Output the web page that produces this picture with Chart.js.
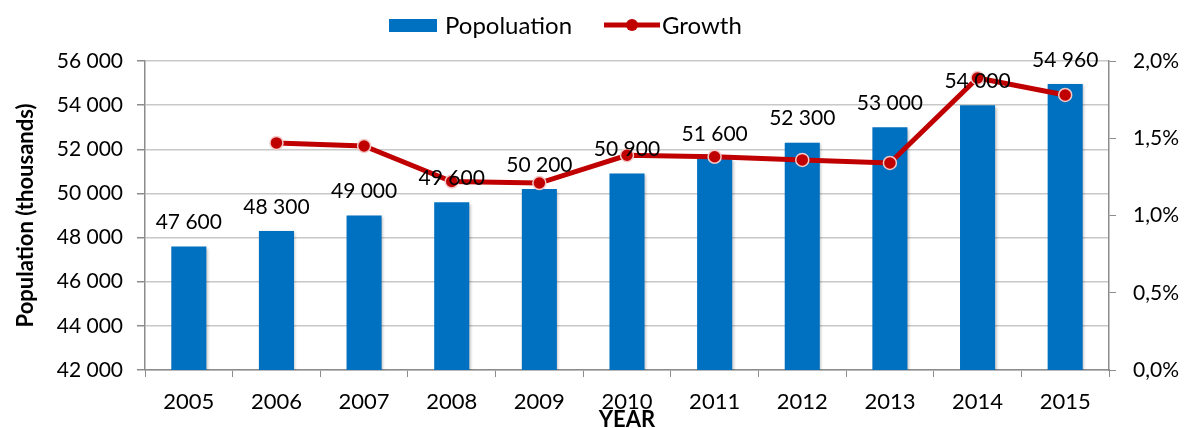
<!DOCTYPE html>
<html>
<head>
<meta charset="utf-8">
<script src="https://cdn.jsdelivr.net/npm/chart.js@4"></script>
<style>
  html, body { margin: 0; padding: 0; background: #fff; }
  #wrap { width: 1199px; height: 428px; position: relative; }
</style>
</head>
<body>
<div id="wrap"><canvas id="chart"></canvas></div>
<script>
// Population by year (thousands) and yearly growth (%)
const years = ['2005','2006','2007','2008','2009','2010','2011','2012','2013','2014','2015'];
const population = [47600, 48300, 49000, 49600, 50200, 50900, 51600, 52300, 53000, 54000, 54960];
const growth = [null, 1.47, 1.45, 1.22, 1.21, 1.39, 1.38, 1.36, 1.34, 1.89, 1.78];
const popTicks = [42000, 44000, 46000, 48000, 50000, 52000, 54000, 56000];
const growthTicks = [0, 0.5, 1.0, 1.5, 2.0];

const FONT = 'Lato, "Open Sans", sans-serif';
const BLUE = '#0070C0';
const RED = '#C00000';
const AXIS = '#8c8c8c';
const GRID = '#c8c8c8';

const fmtThousands = v => String(Math.round(v)).replace(/\B(?=(\d{3})+(?!\d))/g, ' ');
const fmtPct = v => v.toFixed(1).replace('.', ',') + '%';

// soft drop shadow under the bars
const barShadow = {
  id: 'barShadow',
  beforeDatasetDraw(chart, args) {
    if (args.index !== 0) return;
    const ctx = chart.ctx;
    ctx.save();
    ctx.shadowColor = 'rgba(0,0,0,0.28)';
    ctx.shadowBlur = 3;
    ctx.shadowOffsetX = 1.5;
    ctx.shadowOffsetY = 1.5;
  },
  afterDatasetDraw(chart, args) {
    if (args.index !== 0) return;
    chart.ctx.restore();
  }
};

// value labels above each bar
const barLabels = {
  id: 'barLabels',
  afterDatasetsDraw(chart) {
    const ctx = chart.ctx;
    const meta = chart.getDatasetMeta(0);
    ctx.save();
    ctx.font = '21px ' + FONT;
    ctx.fillStyle = '#000';
    ctx.textAlign = 'center';
    ctx.textBaseline = 'middle';
    meta.data.forEach((bar, i) => {
      ctx.fillText(fmtThousands(population[i]), bar.x, bar.y - 24);
    });
    ctx.restore();
  }
};

// legend drawn across the top
const topLegend = {
  id: 'topLegend',
  afterDraw(chart) {
    const ctx = chart.ctx;
    const y = 25;
    ctx.save();
    ctx.font = '24px ' + FONT;
    ctx.textBaseline = 'middle';
    ctx.fillStyle = BLUE;
    ctx.fillRect(389, y - 6, 48, 13);
    ctx.fillStyle = '#000';
    ctx.fillText(chart.data.datasets[0].label, 445, y + 1);
    ctx.strokeStyle = RED;
    ctx.lineWidth = 5;
    ctx.beginPath();
    ctx.moveTo(604, y);
    ctx.lineTo(660, y);
    ctx.stroke();
    ctx.beginPath();
    ctx.fillStyle = RED;
    ctx.arc(632, y, 6, 0, Math.PI * 2);
    ctx.fill();
    ctx.fillStyle = '#000';
    ctx.fillText(chart.data.datasets[1].label, 662, y + 1);
    ctx.restore();
  }
};

new Chart(document.getElementById('chart'), {
  data: {
    labels: years,
    datasets: [
      {
        type: 'bar',
        label: 'Popoluation',
        data: population,
        backgroundColor: BLUE,
        borderWidth: 0,
        categoryPercentage: 1.0,
        barPercentage: 0.4,
        yAxisID: 'y',
        order: 2
      },
      {
        type: 'line',
        label: 'Growth',
        data: growth,
        borderColor: RED,
        borderWidth: 5,
        backgroundColor: RED,
        pointRadius: 6.5,
        pointBorderWidth: 1.5,
        pointBorderColor: '#f3c9c9',
        pointBackgroundColor: RED,
        tension: 0,
        spanGaps: false,
        yAxisID: 'y1',
        order: 1
      }
    ]
  },
  options: {
    responsive: true,
    maintainAspectRatio: false,
    animation: false,
    layout: { padding: { top: 61, left: 0, right: 0, bottom: 0 } },
    plugins: {
      legend: { display: false },
      tooltip: { enabled: false }
    },
    scales: {
      x: {
        offset: true,
        afterFit: axis => { axis.height = 58; },
        grid: { display: true, drawOnChartArea: false, drawTicks: true, tickLength: 7, color: AXIS, offset: true },
        border: { color: AXIS, width: 1.5 },
        ticks: { color: '#000', font: { family: FONT, size: 22 }, padding: 12 },
        title: { display: true, text: 'YEAR', color: '#000', font: { family: FONT, size: 22, weight: 'bold' }, padding: { top: 0, bottom: -5 } }
      },
      y: {
        position: 'left',
        min: 42000,
        max: 56000,
        afterFit: axis => { axis.width = 145; },
        afterBuildTicks: axis => { axis.ticks = popTicks.map(v => ({ value: v })); },
        grid: { color: GRID, lineWidth: 1.5, tickLength: 8, tickColor: AXIS },
        border: { color: AXIS, width: 1.5 },
        ticks: { color: '#000', font: { family: FONT, size: 21 }, padding: 14, callback: v => fmtThousands(v) },
        title: { display: true, text: 'Population (thousands)', color: '#000', font: { family: FONT, size: 22, weight: 'bold' }, padding: { top: 13, bottom: 0 } }
      },
      y1: {
        position: 'right',
        min: 0,
        max: 2.0,
        afterFit: axis => { axis.width = 90; },
        afterBuildTicks: axis => { axis.ticks = growthTicks.map(v => ({ value: v })); },
        grid: { drawOnChartArea: false, tickLength: 7, color: AXIS },
        border: { color: AXIS, width: 1.5 },
        ticks: { color: '#000', font: { family: FONT, size: 21 }, padding: 17, callback: v => fmtPct(v) }
      }
    }
  },
  plugins: [barShadow, barLabels, topLegend]
});
</script>
</body>
</html>
